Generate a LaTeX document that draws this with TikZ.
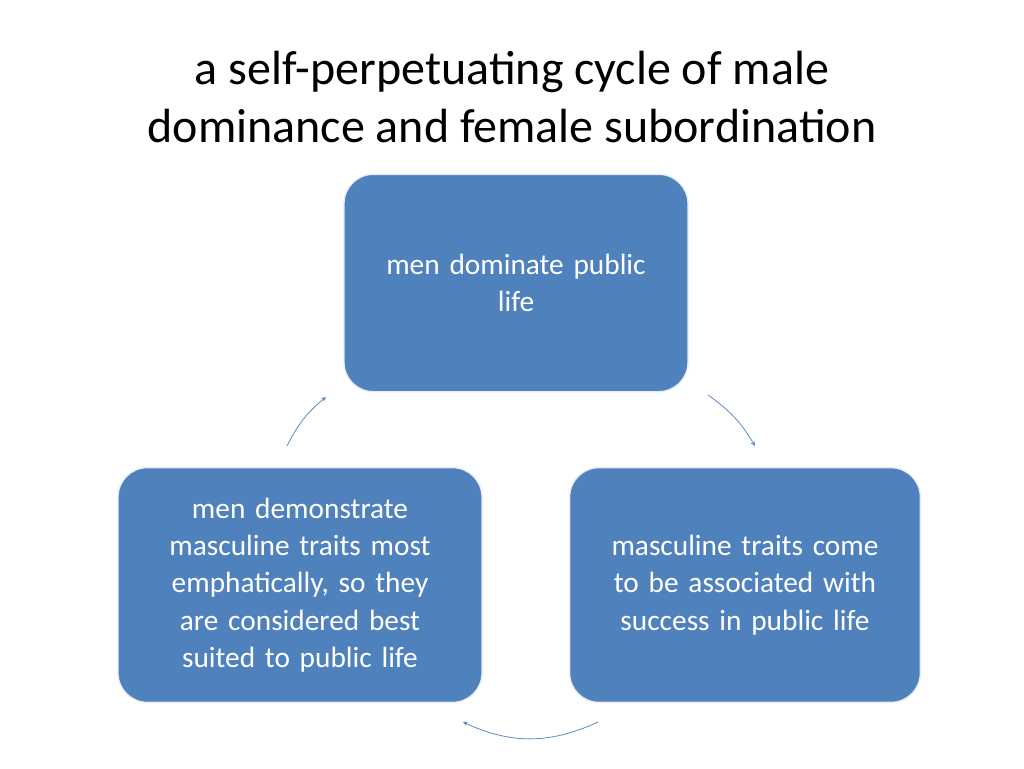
\documentclass[tikz,border=0pt]{standalone}
\usepackage{fontspec}
\setmainfont{Carlito}
\definecolor{boxblue}{HTML}{4F81BD}
\definecolor{arcblue}{HTML}{5B8BC4}
\tikzset{
  cyclebox/.style={rectangle, rounded corners=22pt, draw=white!85!boxblue, line width=1pt, fill=boxblue, text=white, align=center, font=\fontsize{22}{28}\selectfont, inner sep=0pt},
  cyclearc/.style={draw=arcblue, line width=0.6pt, ->, >=stealth}
}
\begin{document}
\begin{tikzpicture}[x=0.75pt, y=-0.75pt]
  \useasboundingbox (0,0) rectangle (1024,768);
  % title
  \node (title) [align=center, font=\fontsize{36}{43.5}\selectfont] at (512,97) {a self-perpetuating cycle of male\\dominance and female subordination};
  % boxes
  \node (top) [cyclebox, minimum width=258pt, minimum height=163pt, text width=240pt] at (516,283) {men dominate public\\life};
  \node (left) [cyclebox, minimum width=273pt, minimum height=176pt, text width=250pt] at (300,585) {men demonstrate\\masculine traits most\\emphatically, so they\\are considered best\\suited to public life};
  \node (right) [cyclebox, minimum width=263pt, minimum height=176pt, text width=250pt] at (745,585) {masculine traits come\\to be associated with\\success in public life};
  % arcs
  \coordinate (a1s) at (287,446); \coordinate (a1e) at (326,397);
  \coordinate (a2s) at (708,395); \coordinate (a2e) at (755,446);
  \coordinate (a3s) at (598,722); \coordinate (a3e) at (463,722);
  \draw [cyclearc] (a1s) to[bend left=12] (a1e);
  \draw [cyclearc] (a2s) to[bend left=12] (a2e);
  \draw [cyclearc] (a3s) to[bend left=25] (a3e);
\end{tikzpicture}
\end{document}
